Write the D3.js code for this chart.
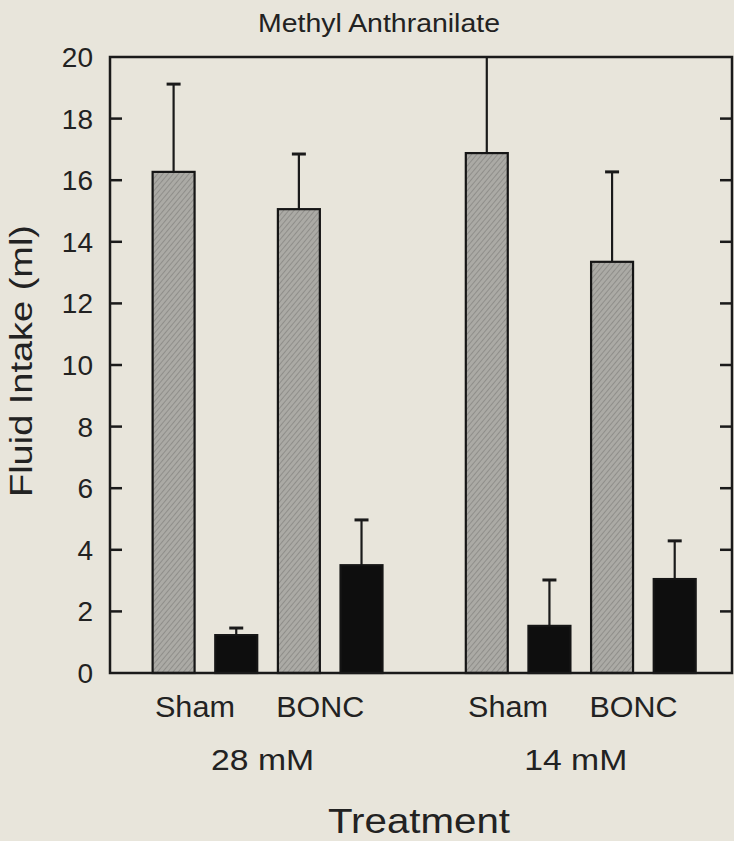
<!DOCTYPE html>
<html>
<head>
<meta charset="utf-8">
<script src="https://cdn.jsdelivr.net/npm/d3@7"></script>
<style>
  body { margin: 0; background: #e8e5db; }
  svg { display: block; }
  text { font-family: "Liberation Sans", Arial, sans-serif; fill: #222; }
</style>
</head>
<body>
<svg id="chart" width="734" height="841"></svg>
<script>
// data
const concentrations = ["28 mM", "14 mM"];
const treatments = ["Sham", "BONC"];
// one entry per (concentration, treatment) pair
const grayMeans = [16.27, 15.06, 16.88, 13.35];
const grayErrs = [2.85, 1.79, 3.6, 2.92];
const blackMeans = [1.23, 3.5, 1.53, 3.05];
const blackErrs = [0.23, 1.47, 1.49, 1.24];
const yTicks = [0, 2, 4, 6, 8, 10, 12, 14, 16, 18, 20];

const svg = d3.select("#chart");
const margin = { left: 110, right: 2, top: 57, bottom: 168 };
const width = 734, height = 841;
const x0 = margin.left, x1 = width - margin.right;
const y0 = height - margin.bottom, y1 = margin.top;

const y = d3.scaleLinear().domain([0, 20]).range([y0, y1]);

// nine slots: 4 bars, a gap, 4 bars
const slot = d3.scaleBand().domain(d3.range(9)).range([x0, x1])
    .paddingInner(0.33).paddingOuter(0.63).align(0.54);

let bars = [];
concentrations.forEach((c, ci) => {
    treatments.forEach((t, ti) => {
        const k = ci * 2 + ti;
        const base = ci * 5 + ti * 2;
        bars.push({ slot: base, value: grayMeans[k], err: grayErrs[k], kind: "gray" });
        bars.push({ slot: base + 1, value: blackMeans[k], err: blackErrs[k], kind: "black" });
    });
});

const defs = svg.append("defs");
const pat = defs.append("pattern")
    .attr("id", "hatch").attr("patternUnits", "userSpaceOnUse")
    .attr("width", 4).attr("height", 4)
    .attr("patternTransform", "rotate(40)");
pat.append("rect").attr("width", 4).attr("height", 4).attr("fill", "#abaaa5");
pat.append("line").attr("x1", 0).attr("y1", 0).attr("x2", 0).attr("y2", 4)
    .attr("stroke", "#747370").attr("stroke-width", 1);
defs.append("clipPath").attr("id", "plot")
    .append("rect").attr("x", x0).attr("y", y1).attr("width", x1 - x0).attr("height", y0 - y1);

// error bars (upper only)
const eb = svg.append("g").attr("clip-path", "url(#plot)")
    .attr("stroke", "#1a1a1a").attr("stroke-width", 2.2);
eb.selectAll("line.v").data(bars).join("line").attr("class", "v")
    .attr("x1", d => slot(d.slot) + slot.bandwidth() / 2)
    .attr("x2", d => slot(d.slot) + slot.bandwidth() / 2)
    .attr("y1", d => y(d.value)).attr("y2", d => y(d.value + d.err));
eb.selectAll("line.c").data(bars).join("line").attr("class", "c")
    .attr("x1", d => slot(d.slot) + slot.bandwidth() / 2 - 7)
    .attr("x2", d => slot(d.slot) + slot.bandwidth() / 2 + 7)
    .attr("y1", d => y(d.value + d.err)).attr("y2", d => y(d.value + d.err))
    .attr("stroke-width", 3);

// bars
svg.append("g").selectAll("rect").data(bars).join("rect")
    .attr("x", d => slot(d.slot)).attr("width", slot.bandwidth())
    .attr("y", d => y(d.value)).attr("height", d => y(0) - y(d.value))
    .attr("fill", d => d.kind === "gray" ? "url(#hatch)" : "#0e0e0e")
    .attr("stroke", "#151515").attr("stroke-width", 2.2);

// frame
svg.append("rect").attr("x", x0).attr("y", y1).attr("width", x1 - x0).attr("height", y0 - y1)
    .attr("fill", "none").attr("stroke", "#1a1a1a").attr("stroke-width", 2.5);

// ticks, inward on both sides
const inner = yTicks.filter(v => v > 0 && v < 20);
svg.append("g").selectAll("line").data(inner).join("line")
    .attr("x1", x0).attr("x2", x0 + 12).attr("y1", d => y(d)).attr("y2", d => y(d))
    .attr("stroke", "#1a1a1a").attr("stroke-width", 2.5);
svg.append("g").selectAll("line").data(inner).join("line")
    .attr("x1", x1).attr("x2", x1 - 12).attr("y1", d => y(d)).attr("y2", d => y(d))
    .attr("stroke", "#1a1a1a").attr("stroke-width", 2.5);

svg.append("g").selectAll("text").data(yTicks).join("text")
    .attr("x", x0 - 17).attr("y", d => y(d)).attr("dy", "0.36em")
    .attr("text-anchor", "end").attr("font-size", 28)
    .text(d => d);

// category labels
const labelData = [];
concentrations.forEach((c, ci) => {
    treatments.forEach((t, ti) => {
        const base = ci * 5 + ti * 2;
        labelData.push({ text: t, x: (slot(base) + slot(base + 1) + slot.bandwidth()) / 2 - 10 });
    });
});
svg.append("g").selectAll("text").data(labelData).join("text")
    .attr("x", d => d.x).attr("y", 717).attr("text-anchor", "middle")
    .attr("font-size", 29)
    .attr("textLength", d => d.text === "Sham" ? 80 : 88).attr("lengthAdjust", "spacingAndGlyphs")
    .text(d => d.text);

svg.append("g").selectAll("text").data(concentrations).join("text")
    .attr("x", (d, i) => (slot(i * 5) + slot(i * 5 + 3) + slot.bandwidth()) / 2 - 5)
    .attr("y", 770).attr("text-anchor", "middle").attr("font-size", 30)
    .attr("textLength", 103).attr("lengthAdjust", "spacingAndGlyphs")
    .text(d => d);

svg.append("text").attr("x", 379).attr("y", 32).attr("text-anchor", "middle")
    .attr("font-size", 25).attr("textLength", 242).attr("lengthAdjust", "spacingAndGlyphs")
    .text("Methyl Anthranilate");

svg.append("text").attr("x", 419).attr("y", 833).attr("text-anchor", "middle")
    .attr("font-size", 35).attr("textLength", 182).attr("lengthAdjust", "spacingAndGlyphs")
    .text("Treatment");

svg.append("text").attr("transform", "translate(32,361) rotate(-90)")
    .attr("text-anchor", "middle").attr("font-size", 31)
    .attr("textLength", 272).attr("lengthAdjust", "spacingAndGlyphs")
    .text("Fluid Intake (ml)");
</script>
</body>
</html>
